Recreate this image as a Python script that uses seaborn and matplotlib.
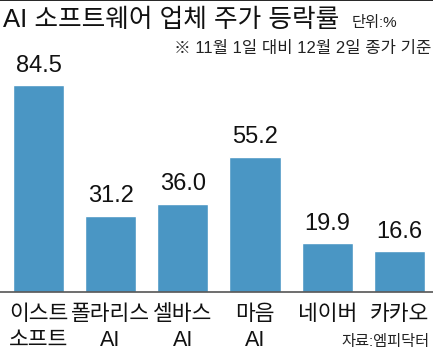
import matplotlib
matplotlib.use('Agg')
import matplotlib.pyplot as plt
import seaborn as sns
import pandas as pd

# data
companies = ['이스트\n소프트', '폴라리스\nAI', '셀바스\nAI', '마음\nAI', '네이버', '카카오']
changes = [84.5, 31.2, 36.0, 55.2, 19.9, 16.6]

sns.set_theme(style='white')
plt.rcParams['font.family'] = ['Liberation Sans', 'Noto Sans CJK KR', 'DejaVu Sans']

df = pd.DataFrame({'company': companies, 'change': changes})

fig = plt.figure(figsize=(4.33, 3.55), dpi=100)
ax = fig.add_axes([0, 1 - 292 / 355, 1, (292 - 40) / 355])

sns.barplot(data=df, x='company', y='change', color='#4a96c4', saturation=1,
            width=0.71, ax=ax)
ax.set_xlim(-0.533, 5.467)
ax.set_ylim(0, 252 / 2.45)

for i, v in enumerate(changes):
    ax.annotate(f'{v:.1f}', (i, v), xytext=(0, 6), textcoords='offset points',
                ha='center', va='bottom', fontsize=17, color='#111111')

for s in ['top', 'left', 'right']:
    ax.spines[s].set_visible(False)
ax.spines['bottom'].set_color('#555555')
ax.spines['bottom'].set_linewidth(1.2)
ax.set_yticks([])
ax.set_xlabel('')
ax.set_ylabel('')
ax.tick_params(axis='x', length=0, pad=9, labelsize=15.5, colors='#111111')
for t in ax.get_xticklabels():
    t.set_linespacing(1.25)

fig.add_artist(plt.Line2D([0, 1], [0.999, 0.999], color='black', lw=1.2))
fig.text(3 / 433, 1 - 8 / 355, 'AI 소프트웨어 업체 주가 등락률', fontsize=18.5,
         ha='left', va='top', color='#111111', fontweight='medium')
fig.text(352 / 433, 1 - 16 / 355, '단위:%', fontsize=11, ha='left', va='top',
         color='#222222')
fig.text(431 / 433, 1 - 41 / 355, '※ 11월 1일 대비 12월 2일 종가 기준',
         fontsize=12, ha='right', va='top', color='#222222')
fig.text(430 / 433, 1 - 335 / 355, '자료:엠피닥터', fontsize=11,
         ha='right', va='top', color='#222222')

fig.savefig('out.png', dpi=100)
